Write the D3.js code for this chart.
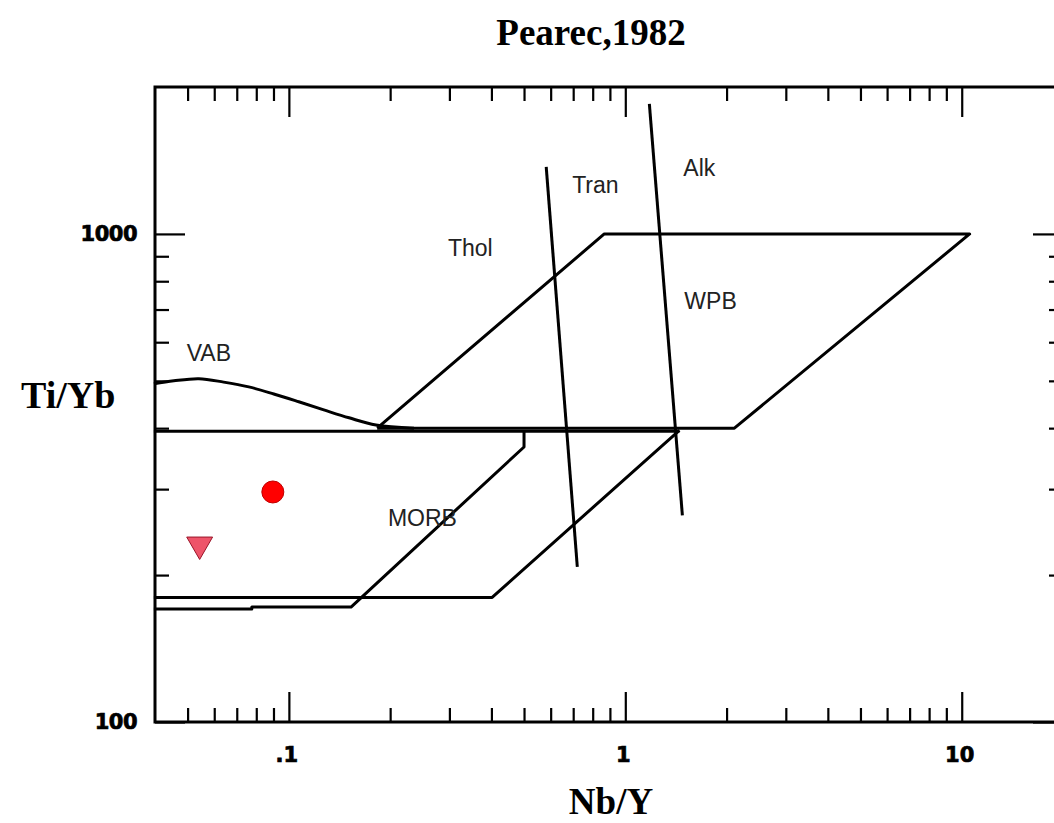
<!DOCTYPE html>
<html>
<head>
<meta charset="utf-8">
<script src="https://cdn.jsdelivr.net/npm/d3@7"></script>
<style>
  html, body { margin: 0; padding: 0; background: #ffffff; }
  svg { display: block; }
</style>
</head>
<body>
<svg id="pearce-diagram" width="1054" height="823"></svg>
<script>
// ---------------- data ----------------
const xMajorTicks = [0.1, 1, 10];
const xTickLabels = [".1", "1", "10"];
const xMinorTicks = [0.05, 0.06, 0.07, 0.08, 0.09,
                     0.2, 0.3, 0.4, 0.5, 0.6, 0.7, 0.8, 0.9,
                     2, 3, 4, 5, 6, 7, 8, 9];
const yMajorTicks = [100, 1000];
const yTickLabels = ["100", "1000"];
const yMinorTicks = [200, 300, 400, 500, 600, 700, 800, 900];

// field boundaries [Nb/Y, Ti/Yb]
const wpbField = [[0.183, 400], [0.866, 1000], [10.56, 1000], [2.11, 400], [0.183, 400]];
const vabCurve = [[0.0397, 493], [0.0455, 500], [0.054, 505], [0.064, 497], [0.076, 486],
                  [0.0902, 470], [0.107, 453], [0.127, 436], [0.151, 420], [0.1815, 406], [0.2355, 400]];
const morbTop = [[0.0397, 394], [1.448, 394]];
const morbOuter = [[0.0397, 180], [0.402, 180], [1.448, 396]];
const morbInner = [[0.0397, 170.5], [0.0776, 170.5], [0.0776, 172], [0.153, 172], [0.50, 366], [0.50, 394]];
const tholTranLine = [[0.582, 1372], [0.720, 208]];
const tranAlkLine = [[1.179, 1846], [1.478, 265]];

const fieldNames = ["VAB", "MORB", "Thol", "Tran", "Alk", "WPB"];
const fieldNameX = [0.0497, 0.197, 0.297, 0.695, 1.488, 1.498];
const fieldNameY = [549, 252, 901, 1213, 1315, 702];

// samples
const circleSample = [0.0896, 296];
const triangleSample = [0.0543, 231];

// ---------------- layout ----------------
const svg = d3.select("#pearce-diagram");
const plotLeft = 155, plotRight = 1063, plotTop = 87, plotBottom = 722;

const x = d3.scaleLog().domain([0.04, 20]).range([plotLeft, plotRight]);
const y = d3.scaleLog().domain([100, 2000]).range([plotBottom, plotTop]);

const majorLen = 30, minorLen = 14;

// frame
svg.append("rect")
    .attr("x", plotLeft)
    .attr("y", plotTop)
    .attr("width", plotRight - plotLeft)
    .attr("height", plotBottom - plotTop)
    .attr("fill", "none")
    .attr("stroke", "#000")
    .attr("stroke-width", 3);

// ticks: all pointing inwards
function drawTicks(axisFn, scale, values, len, transform) {
    const g = svg.append("g")
        .attr("transform", transform)
        .call(axisFn(scale).tickValues(values).tickSize(-len).tickFormat(""));
    g.select(".domain").remove();
    g.selectAll(".tick line").attr("stroke", "#000").attr("stroke-width", 2.2);
    return g;
}

drawTicks(d3.axisBottom, x, xMajorTicks, majorLen, `translate(0,${plotBottom})`);
drawTicks(d3.axisBottom, x, xMinorTicks, minorLen, `translate(0,${plotBottom})`);
drawTicks(d3.axisTop, x, xMajorTicks, majorLen, `translate(0,${plotTop})`);
drawTicks(d3.axisTop, x, xMinorTicks, minorLen, `translate(0,${plotTop})`);
drawTicks(d3.axisLeft, y, yMajorTicks, majorLen, `translate(${plotLeft},0)`);
drawTicks(d3.axisLeft, y, yMinorTicks, minorLen, `translate(${plotLeft},0)`);
drawTicks(d3.axisRight, y, yMajorTicks, majorLen, `translate(${plotRight},0)`);
drawTicks(d3.axisRight, y, yMinorTicks, minorLen, `translate(${plotRight},0)`);

// tick labels
svg.append("g").selectAll("text")
    .data(xMajorTicks)
    .join("text")
    .attr("x", d => x(d) - 2)
    .attr("y", 762)
    .attr("text-anchor", "middle")
    .style("font-family", "'DejaVu Sans', sans-serif")
    .style("font-weight", "bold")
    .style("font-size", "21px")
    .style("stroke", "#000")
    .style("stroke-width", 0.7)
    .text((d, i) => xTickLabels[i]);

svg.append("g").selectAll("text")
    .data(yMajorTicks)
    .join("text")
    .attr("x", 137)
    .attr("y", d => y(d) + 7)
    .attr("text-anchor", "end")
    .style("font-family", "'DejaVu Sans', sans-serif")
    .style("font-weight", "bold")
    .style("font-size", "21px")
    .style("letter-spacing", "-0.5px")
    .style("stroke", "#000")
    .style("stroke-width", 0.7)
    .text((d, i) => yTickLabels[i]);

// field boundaries
const line = d3.line().x(d => x(d[0])).y(d => y(d[1]));
const smoothLine = d3.line().curve(d3.curveCatmullRom).x(d => x(d[0])).y(d => y(d[1]));
const boundaries = [wpbField, morbTop, morbOuter, morbInner, tholTranLine, tranAlkLine];

svg.append("g")
    .selectAll("path")
    .data(boundaries)
    .join("path")
    .attr("d", line)
    .attr("fill", "none")
    .attr("stroke", "#000")
    .attr("stroke-width", 3)
    .attr("stroke-linejoin", "round");

svg.append("path")
    .datum(vabCurve)
    .attr("d", smoothLine)
    .attr("fill", "none")
    .attr("stroke", "#000")
    .attr("stroke-width", 3);

// field names
svg.append("g").selectAll("text")
    .data(fieldNames)
    .join("text")
    .attr("x", (d, i) => x(fieldNameX[i]))
    .attr("y", (d, i) => y(fieldNameY[i]))
    .style("font-family", "'Liberation Sans', Arial, sans-serif")
    .style("font-size", "23px")
    .style("fill", "#222")
    .text(d => d);

// samples
svg.append("circle")
    .attr("cx", x(circleSample[0]))
    .attr("cy", y(circleSample[1]))
    .attr("r", 11)
    .attr("fill", "#ff0000")
    .attr("stroke", "#c00000")
    .attr("stroke-width", 1);

svg.append("path")
    .attr("d", d3.symbol().type(d3.symbolTriangle).size(290)())
    .attr("transform", `translate(${x(triangleSample[0])},${y(triangleSample[1])}) rotate(180)`)
    .attr("fill", "#ee5469")
    .attr("stroke", "#9a1428")
    .attr("stroke-width", 1);

// titles
svg.append("text")
    .attr("x", 591)
    .attr("y", 45)
    .attr("text-anchor", "middle")
    .style("font-family", "'Liberation Serif', 'Times New Roman', serif")
    .style("font-weight", "bold")
    .style("font-size", "37px")
    .text("Pearec,1982");

svg.append("text")
    .attr("x", 611)
    .attr("y", 814)
    .attr("text-anchor", "middle")
    .style("font-family", "'Liberation Serif', 'Times New Roman', serif")
    .style("font-weight", "bold")
    .style("font-size", "37px")
    .text("Nb/Y");

svg.append("text")
    .attr("x", 21)
    .attr("y", 408)
    .style("font-family", "'Liberation Serif', 'Times New Roman', serif")
    .style("font-weight", "bold")
    .style("font-size", "38px")
    .text("Ti/Yb");
</script>
</body>
</html>
